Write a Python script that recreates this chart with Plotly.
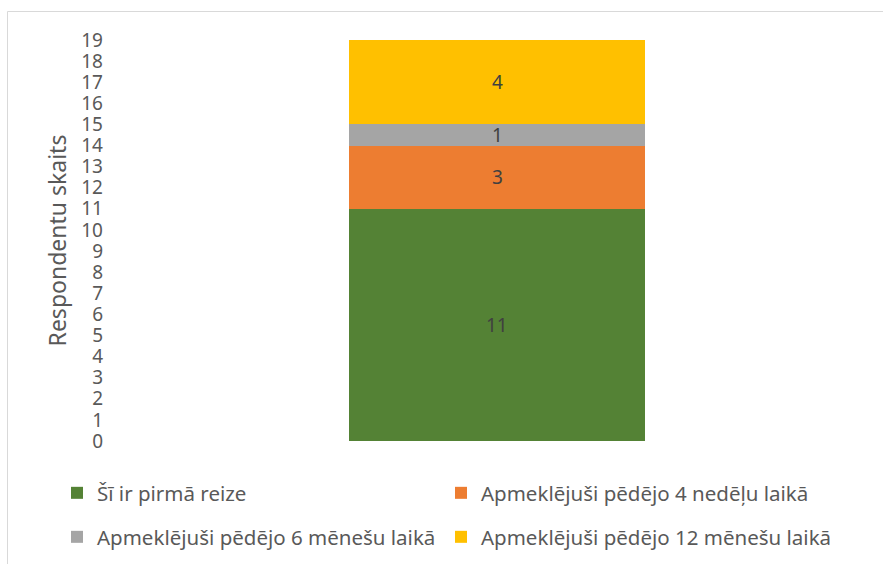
import plotly.graph_objects as go

categories = ["Respondenti"]
series_names = [
    "Šī ir pirmā reize",
    "Apmeklējuši pēdējo 4 nedēļu laikā",
    "Apmeklējuši pēdējo 6 mēnešu laikā",
    "Apmeklējuši pēdējo 12 mēnešu laikā",
]
series_values = [[11], [3], [1], [4]]
series_colors = ["#548235", "#ED7D31", "#A5A5A5", "#FFC000"]
tick_values = list(range(0, 20))
y_title = "Respondentu skaits"

W, H = 883, 564
L, R, T, B = 104, 0, 40, 123
PW = W - L - R
PH = H - T - B

def px_x(p):
    return (p - L) / PW

def px_y(p):
    return (H - B - p) / PH

FONT = "Noto Sans"
legend_pos = [(57, 493), (441, 493), (57, 537), (441, 537)]
legend_names = ["legend", "legend2", "legend3", "legend4"]

bar_center_frac = px_x(497)
bar_width_units = 296 / PW

fig = go.Figure()
cum = 0
for name, vals, col, lg in zip(series_names, series_values, series_colors, legend_names):
    fig.add_trace(go.Bar(
        x=categories, y=vals, name=name, marker_color=col, marker_line_width=0,
        width=bar_width_units, legend=lg, hoverinfo="skip",
    ))
    for c, v in zip(categories, vals):
        fig.add_annotation(x=c, y=cum + v / 2, text=str(v), showarrow=False,
                           font=dict(color="#404040", size=19, family=FONT),
                           xanchor="center", yanchor="middle")
    cum += vals[0]

layout = dict(
    width=W, height=H,
    margin=dict(l=L, r=R, t=T, b=B, pad=0),
    barmode="stack",
    plot_bgcolor="white", paper_bgcolor="white",
    font=dict(family=FONT, color="#595959"),
    showlegend=True,
    xaxis=dict(range=[-bar_center_frac, 1 - bar_center_frac], showticklabels=False,
               showgrid=False, zeroline=False, showline=False, ticks=""),
    yaxis=dict(range=[0, 19], tickvals=tick_values, showgrid=False, zeroline=False,
               showline=False, ticks="", tickfont=dict(size=19, color="#595959"),
               title=dict(text=y_title, font=dict(size=23, color="#595959"), standoff=8)),
)
for lg, (lx, ly) in zip(legend_names, legend_pos):
    layout[lg] = dict(x=px_x(lx), y=px_y(ly), xanchor="left", yanchor="middle",
                      orientation="h", font=dict(size=20.5, color="#595959", family=FONT),
                      bgcolor="rgba(0,0,0,0)", borderwidth=0, itemclick=False)
fig.update_layout(**layout)

fig.add_shape(type="rect", xref="paper", yref="paper",
              x0=px_x(7.5), x1=px_x(W + 5), y0=px_y(H + 5), y1=px_y(11.5),
              line=dict(color="#D9D9D9", width=1), layer="below")

fig.write_html("out.html", config={"displayModeBar": False},
               post_script="document.body.style.margin='0';")
